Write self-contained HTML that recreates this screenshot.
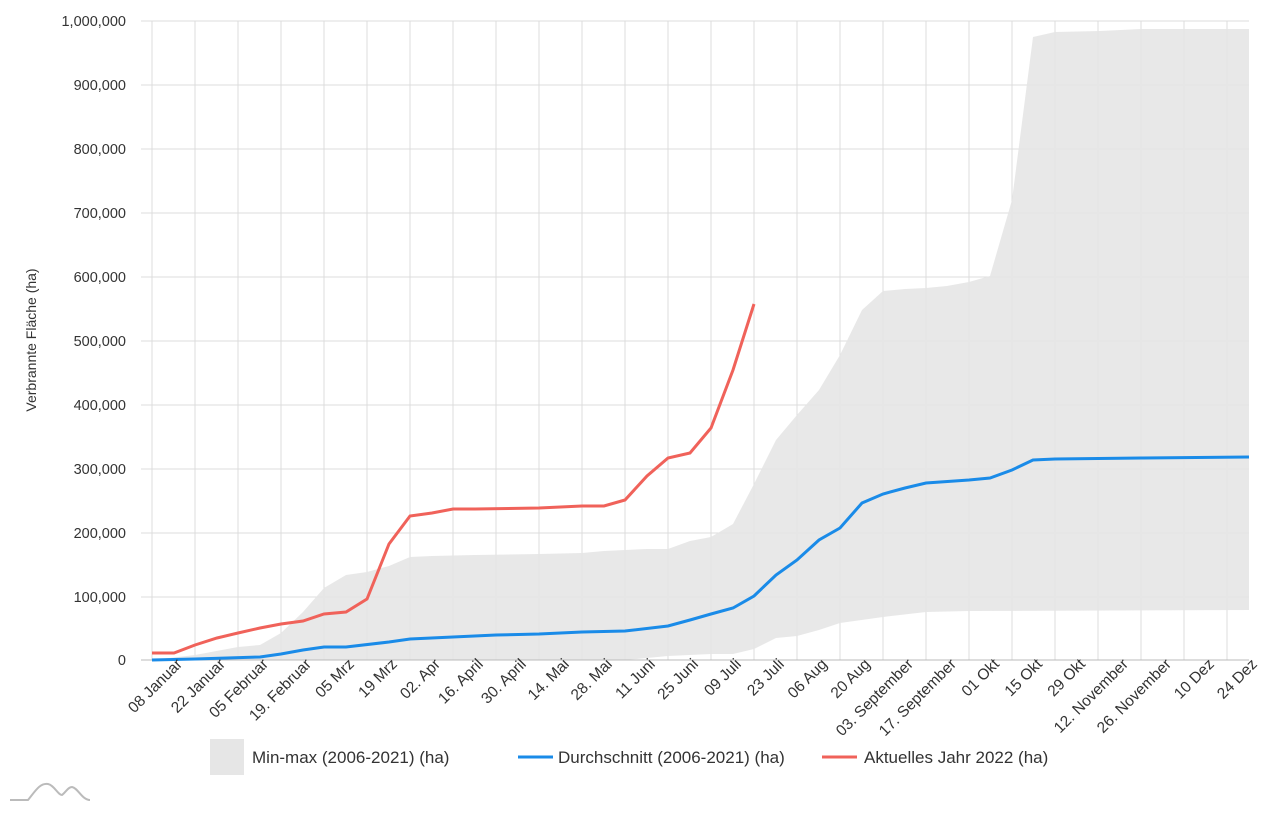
<!DOCTYPE html><html><head><style>body{margin:0;background:#fff}text{font-family:"Liberation Sans",sans-serif;fill:#333}</style></head><body>
<svg width="1282" height="810" xmlns="http://www.w3.org/2000/svg">
<g stroke="#dcdcdc" stroke-width="1">
<line x1="141" y1="21" x2="1249" y2="21"/><line x1="141" y1="85" x2="1249" y2="85"/><line x1="141" y1="149" x2="1249" y2="149"/><line x1="141" y1="213" x2="1249" y2="213"/><line x1="141" y1="277" x2="1249" y2="277"/><line x1="141" y1="341" x2="1249" y2="341"/><line x1="141" y1="405" x2="1249" y2="405"/><line x1="141" y1="469" x2="1249" y2="469"/><line x1="141" y1="533" x2="1249" y2="533"/><line x1="141" y1="597" x2="1249" y2="597"/>
</g>
<g stroke="#dcdcdc">
<line x1="152" y1="21" x2="152" y2="660"/><line x1="195" y1="21" x2="195" y2="660"/><line x1="238" y1="21" x2="238" y2="660"/><line x1="281" y1="21" x2="281" y2="660"/><line x1="324" y1="21" x2="324" y2="660"/><line x1="367" y1="21" x2="367" y2="660"/><line x1="410" y1="21" x2="410" y2="660"/><line x1="453" y1="21" x2="453" y2="660"/><line x1="496" y1="21" x2="496" y2="660"/><line x1="539" y1="21" x2="539" y2="660"/><line x1="582" y1="21" x2="582" y2="660"/><line x1="625" y1="21" x2="625" y2="660"/><line x1="668" y1="21" x2="668" y2="660"/><line x1="711" y1="21" x2="711" y2="660"/><line x1="754" y1="21" x2="754" y2="660"/><line x1="797" y1="21" x2="797" y2="660"/><line x1="840" y1="21" x2="840" y2="660"/><line x1="883" y1="21" x2="883" y2="660"/><line x1="926" y1="21" x2="926" y2="660"/><line x1="969" y1="21" x2="969" y2="660"/><line x1="1012" y1="21" x2="1012" y2="660"/><line x1="1055" y1="21" x2="1055" y2="660"/><line x1="1098" y1="21" x2="1098" y2="660"/><line x1="1141" y1="21" x2="1141" y2="660"/><line x1="1184" y1="21" x2="1184" y2="660"/><line x1="1227" y1="21" x2="1227" y2="660"/>
</g>
<polygon fill="#e6e6e6" fill-opacity="0.9" points="152,660 195,655 238,647 260,645 281,633 303,612 324,588 346,575 367,572 389,566 410,557 432,556 475,555 539,554 582,553 604,551 647,549 668,549 690,541 711,537 733,524 754,484 776,440 797,415 819,390 840,355 862,310 883,291 905,289 926,288 947,286 969,282 990,276 1012,200 1033,37 1055,32 1100,31 1141,29 1249,29 1249,610 969,611 926,612 883,617 840,623 819,630 797,636 776,638 754,649 733,654 711,654 668,656 625,660"/>
<line x1="141" y1="660" x2="1249" y2="660" stroke="#bbb"/>
<polyline fill="none" stroke="#1a8be8" stroke-width="3" points="152,660 195,659 260,657 281,654 303,650 324,647 346,647 389,642 410,639 453,637 496,635 539,634 582,632 625,631 668,626 690,620 711,614 733,608 754,596 776,575 797,560 819,540 840,528 862,503 883,494 905,488 926,483 969,480 990,478 1012,470 1033,460 1055,459 1141,458 1249,457"/>
<polyline fill="none" stroke="#f0625a" stroke-width="3" points="152,653 174,653 195,645 217,638 238,633 260,628 281,624 303,621 324,614 346,612 367,599 389,544 410,516 432,513 453,509 475,509 539,508 582,506 604,506 625,500 647,476 668,458 690,453 711,428 733,370 754,304"/>
<g font-size="14.5" text-anchor="end">
<text x="126" y="26">1,000,000</text><text x="126" y="90">900,000</text><text x="126" y="154">800,000</text><text x="126" y="218">700,000</text><text x="126" y="282">600,000</text><text x="126" y="346">500,000</text><text x="126" y="410">400,000</text><text x="126" y="474">300,000</text><text x="126" y="538">200,000</text><text x="126" y="602">100,000</text><text x="126" y="665">0</text>
</g>
<text transform="translate(36,340) rotate(-90)" font-size="14" text-anchor="middle">Verbrannte Fläche (ha)</text>
<g font-size="15.5" text-anchor="end">
<text transform="translate(183,665) rotate(-45)">08 Januar</text>
<text transform="translate(226,665) rotate(-45)">22 Januar</text>
<text transform="translate(269,665) rotate(-45)">05 Februar</text>
<text transform="translate(312,665) rotate(-45)">19. Februar</text>
<text transform="translate(355,665) rotate(-45)">05 Mrz</text>
<text transform="translate(398,665) rotate(-45)">19 Mrz</text>
<text transform="translate(441,665) rotate(-45)">02. Apr</text>
<text transform="translate(484,665) rotate(-45)">16. April</text>
<text transform="translate(527,665) rotate(-45)">30. April</text>
<text transform="translate(570,665) rotate(-45)">14. Mai</text>
<text transform="translate(613,665) rotate(-45)">28. Mai</text>
<text transform="translate(656,665) rotate(-45)">11 Juni</text>
<text transform="translate(699,665) rotate(-45)">25 Juni</text>
<text transform="translate(742,665) rotate(-45)">09 Juli</text>
<text transform="translate(785,665) rotate(-45)">23 Juli</text>
<text transform="translate(828,665) rotate(-45)">06 Aug</text>
<text transform="translate(871,665) rotate(-45)">20 Aug</text>
<text transform="translate(914,665) rotate(-45)">03. September</text>
<text transform="translate(957,665) rotate(-45)">17. September</text>
<text transform="translate(1000,665) rotate(-45)">01 Okt</text>
<text transform="translate(1043,665) rotate(-45)">15 Okt</text>
<text transform="translate(1086,665) rotate(-45)">29 Okt</text>
<text transform="translate(1129,665) rotate(-45)">12. November</text>
<text transform="translate(1172,665) rotate(-45)">26. November</text>
<text transform="translate(1215,665) rotate(-45)">10 Dez</text>
<text transform="translate(1258,665) rotate(-45)">24 Dez</text>
</g>
<rect x="210" y="739" width="34" height="36" fill="#e6e6e6"/>
<text x="252" y="763" font-size="17">Min-max (2006-2021) (ha)</text>
<line x1="518" y1="757" x2="553" y2="757" stroke="#1a8be8" stroke-width="3"/>
<text x="558" y="763" font-size="17">Durchschnitt (2006-2021) (ha)</text>
<line x1="822" y1="757" x2="857" y2="757" stroke="#f0625a" stroke-width="3"/>
<text x="864" y="763" font-size="17">Aktuelles Jahr 2022 (ha)</text>
<path d="M10,800 H28 C36,790 40,783 48,784 C54,785 58,795 62,795 C66,792 68,787 72,787 C78,788 82,800 90,800" fill="none" stroke="#bbb" stroke-width="2"/>
</svg>
</body></html>
